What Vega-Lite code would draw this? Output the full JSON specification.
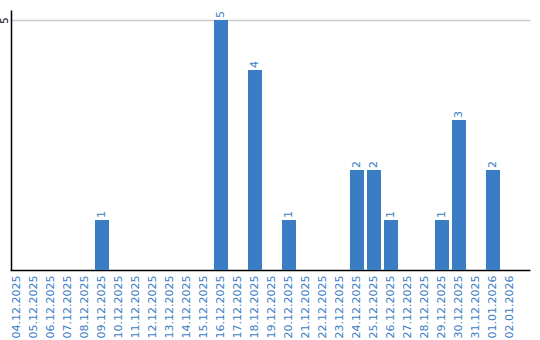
{
  "$schema": "https://vega.github.io/schema/vega-lite/v6.json",
  "autosize": "none",
  "width": 520,
  "height": 260,
  "padding": {"left": 11, "top": 10, "right": 9, "bottom": 70},
  "background": "white",
  "config": {
    "view": {"stroke": null},
    "font": "DejaVu Sans"
  },
  "data": {
    "values": [
      {"date": "04.12.2025", "count": 0},
      {"date": "05.12.2025", "count": 0},
      {"date": "06.12.2025", "count": 0},
      {"date": "07.12.2025", "count": 0},
      {"date": "08.12.2025", "count": 0},
      {"date": "09.12.2025", "count": 1},
      {"date": "10.12.2025", "count": 0},
      {"date": "11.12.2025", "count": 0},
      {"date": "12.12.2025", "count": 0},
      {"date": "13.12.2025", "count": 0},
      {"date": "14.12.2025", "count": 0},
      {"date": "15.12.2025", "count": 0},
      {"date": "16.12.2025", "count": 5},
      {"date": "17.12.2025", "count": 0},
      {"date": "18.12.2025", "count": 4},
      {"date": "19.12.2025", "count": 0},
      {"date": "20.12.2025", "count": 1},
      {"date": "21.12.2025", "count": 0},
      {"date": "22.12.2025", "count": 0},
      {"date": "23.12.2025", "count": 0},
      {"date": "24.12.2025", "count": 2},
      {"date": "25.12.2025", "count": 2},
      {"date": "26.12.2025", "count": 1},
      {"date": "27.12.2025", "count": 0},
      {"date": "28.12.2025", "count": 0},
      {"date": "29.12.2025", "count": 1},
      {"date": "30.12.2025", "count": 3},
      {"date": "31.12.2025", "count": 0},
      {"date": "01.01.2026", "count": 2},
      {"date": "02.01.2026", "count": 0}
    ]
  },
  "encoding": {
    "x": {
      "field": "date",
      "type": "ordinal",
      "sort": null,
      "scale": {"range": [-1, 519], "paddingInner": 0.1765, "paddingOuter": 0.3824, "align": 0},
      "axis": {
        "title": null,
        "domainColor": "black",
        "domainWidth": 1.5,
        "ticks": false,
        "labelAngle": 270,
        "labelColor": "#3b7dc4",
        "labelFontSize": 11,
        "labelPadding": 5,
        "grid": false
      }
    },
    "y": {
      "field": "count",
      "type": "quantitative",
      "scale": {"domain": [0, 5.2], "nice": false},
      "axis": {
        "title": null,
        "values": [5],
        "domainColor": "black",
        "domainWidth": 1.5,
        "ticks": false,
        "grid": true,
        "gridColor": "#cccccc",
        "gridWidth": 1.5,
        "labelAngle": 270,
        "labelColor": "black",
        "labelFontSize": 10,
        "labelPadding": 2,
        "labelAlign": "center",
        "labelBaseline": "bottom"
      }
    }
  },
  "layer": [
    {
      "mark": {"type": "bar", "color": "#3b7dc4"}
    },
    {
      "transform": [{"filter": "datum.count > 0"}],
      "mark": {"type": "text", "angle": 270, "align": "left", "baseline": "middle", "dx": 2, "color": "#3b7dc4", "fontSize": 11},
      "encoding": {"text": {"field": "count", "type": "quantitative"}}
    }
  ]
}
